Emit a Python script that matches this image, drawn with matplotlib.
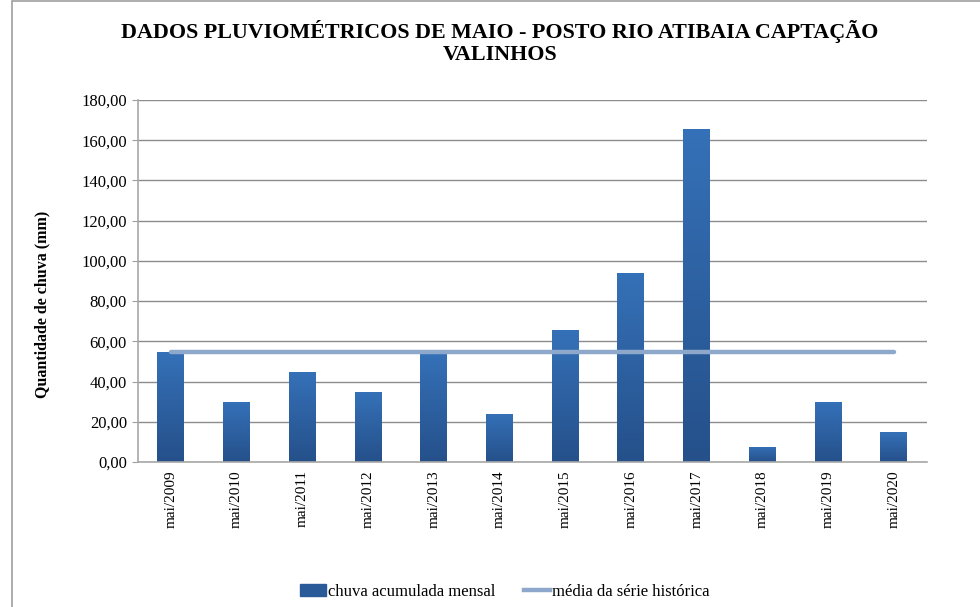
import matplotlib
matplotlib.use("Agg")
import matplotlib.pyplot as plt
import numpy as np
from matplotlib.patches import Rectangle
from matplotlib.lines import Line2D
from matplotlib.colors import LinearSegmentedColormap

categories = ["mai/2009", "mai/2010", "mai/2011", "mai/2012", "mai/2013", "mai/2014",
              "mai/2015", "mai/2016", "mai/2017", "mai/2018", "mai/2019", "mai/2020"]
chuva = [54.7, 29.8, 44.8, 34.8, 54.5, 23.9, 65.6, 94.0, 165.6, 7.5, 29.8, 14.9]
media = [54.8] * 12
yticks = [0, 20, 40, 60, 80, 100, 120, 140, 160, 180]

plt.rcParams['font.family'] = ['Liberation Serif', 'DejaVu Serif']

fig = plt.figure(figsize=(9.8, 6.07), dpi=100)
# outer chart border
fig.patches.append(Rectangle((12/980, -0.01), 1.0, 1.0 - 1/607 + 0.01, transform=fig.transFigure,
                             fill=False, edgecolor='#a0a0a0', linewidth=1.2))

ax = fig.add_axes([138/980, (607-462)/607, (926.7-138)/980, (462-100)/607])
x = np.arange(len(categories))
bw = 0.41
bars = ax.bar(x, chuva, width=bw, color='#2E5E9E', zorder=2, edgecolor='none')

cmap = LinearSegmentedColormap.from_list('g', ['#25508A', '#3571B8'])
grad = np.linspace(0, 1, 256).reshape(-1, 1)
for b in bars:
    x0, w, h = b.get_x(), b.get_width(), b.get_height()
    im = ax.imshow(grad, cmap=cmap, aspect='auto', origin='lower',
                   extent=[x0, x0 + w, 0, h], zorder=2.1)
    im.set_clip_path(b)

ax.plot(x, media, color='#8EA8CC', linewidth=3.2, solid_capstyle='round', zorder=3)

ax.set_xlim(-0.5, len(categories) - 0.5)
ax.set_ylim(0, 180)
ax.set_yticks(yticks)
ax.set_yticklabels([f"{v:.2f}".replace('.', ',') for v in yticks], fontsize=12)
ax.set_xticks(x)
ax.set_xticklabels(categories, rotation=90, fontsize=11)
ax.tick_params(axis='x', length=0, pad=6)
ax.tick_params(axis='y', length=4, color='#a0a0a0', pad=4)
ax.grid(axis='y', color='#8c8c8c', linewidth=1.0, zorder=0)
ax.set_axisbelow(True)
for s in ['top', 'right']:
    ax.spines[s].set_visible(False)
for s in ['left', 'bottom']:
    ax.spines[s].set_color('#a8a8a8')
    ax.spines[s].set_linewidth(1.2)

ax.set_ylabel("Quantidade de chuva (mm)", fontsize=11.5, fontweight='bold')
ax.yaxis.set_label_coords(-0.111, 0.436)

fig.text(0.51, 0.967, "DADOS PLUVIOMÉTRICOS DE MAIO - POSTO RIO ATIBAIA CAPTAÇÃO\nVALINHOS",
         ha='center', va='top', fontsize=15.8, fontweight='bold', linespacing=1.1)

handles = [Rectangle((0, 0), 1, 1, color='#2B5A98'),
           Line2D([0], [0], color='#8EA8CC', linewidth=3.2)]
fig.legend(handles, ["chuva acumulada mensal", "média da série histórica"],
           loc='center', bbox_to_anchor=(0.515, 0.025), ncol=2, frameon=False,
           fontsize=12, handlelength=1.6, handletextpad=0.1, columnspacing=1.7)

fig.savefig("out.png", dpi=100)
